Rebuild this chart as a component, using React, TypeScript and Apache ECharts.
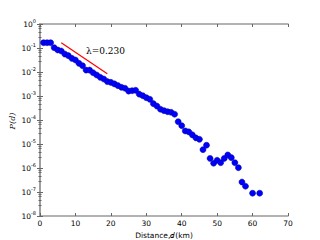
import React, { useEffect, useRef } from "react";
import * as echarts from "echarts";

const distances = [1,2,3,4,5,6,7,8,9,10,11,12,13,14,15,16,17,18,19,20,21,22,23,24,25,26,27,28,29,30,31,32,33,34,35,36,37,38,39,40,41,42,43,44,45,46,47,48,49,50,51,52,53,54,55,56,57,58,60,62];
const probs = [0.166,0.166,0.166,0.103,0.083,0.075,0.056,0.048,0.037,0.0316,0.023,0.0183,0.012,0.012,0.0093,0.0075,0.006,0.0051,0.004,0.0037,0.0032,0.0027,0.0023,0.0021,0.0016,0.00166,0.00173,0.0012,0.00103,0.00085,0.00073,0.00048,0.00038,0.00028,0.000245,0.000222,0.00021,0.000174,8.5e-5,5.8e-5,3.5e-5,3.2e-5,2.4e-5,1.8e-5,1.57e-5,5.8e-6,8.9e-6,2.5e-6,1.58e-6,2.1e-6,1.66e-6,2.5e-6,3.5e-6,2.7e-6,1.66e-6,1.03e-6,2.6e-7,1.74e-7,8.9e-8,8.9e-8];
const fitX = [6, 19];
const fitY = [0.166, 0.0084];
const fitLabel = "λ=0.230";
const yTitle = "P(d)";
const xTicks = [0, 10, 20, 30, 40, 50, 60, 70];

export default function App() {
  const ref = useRef<HTMLDivElement>(null);
  useEffect(() => {
    if (!ref.current) return;
    const chart = echarts.init(ref.current, undefined, { renderer: "svg" });
    const axisColor = "#999";
    const supFmt = (v: number) => {
      const e = Math.round(Math.log10(v));
      return `{b|10}{s|${e}}`;
    };
    const rich = {
      b: { fontSize: 7.5, fontFamily: "DejaVu Sans", color: "#000" },
      s: { fontSize: 5, fontFamily: "DejaVu Sans", color: "#000", padding: [0, 0, 6, 0] },
    };
    chart.setOption({
      animation: false,
      grid: { left: 40, right: 32, top: 24, bottom: 24, containLabel: false, outerBoundsMode: "none" },
      xAxis: [
        {
          type: "value", min: 0, max: 70, interval: 10,
          axisLine: { lineStyle: { color: axisColor, width: 1.5 } },
          axisTick: { inside: true, length: 3, lineStyle: { color: "#666" } },
          axisLabel: { fontSize: 7.5, fontFamily: "DejaVu Sans", color: "#000", margin: 3, formatter: (v: number) => (xTicks.includes(v) ? String(v) : "") },
          splitLine: { show: false },
          name: "Distance,𝑑(km)", nameLocation: "middle", nameGap: 13,
          nameTextStyle: { fontSize: 7.5, fontFamily: "DejaVu Sans", color: "#000" },
        },
        {
          type: "value", min: 0, max: 70, interval: 10, position: "top",
          axisLine: { show: true, lineStyle: { color: axisColor, width: 1.5 } },
          axisTick: { show: true, inside: true, length: 3, lineStyle: { color: "#666" } },
          axisLabel: { show: false }, splitLine: { show: false },
        },
      ],
      yAxis: [
        {
          type: "log", logBase: 10, min: 1e-8, max: 1, interval: 1, splitNumber: 8,
          axisLine: { show: true, lineStyle: { color: axisColor, width: 1.5 } },
          axisTick: { show: true, inside: true, length: 3, lineStyle: { color: "#666" } },
          minorTick: { show: true, splitNumber: 5, length: 1.5, lineStyle: { color: "#666" } },
          axisLabel: { formatter: supFmt, rich, margin: 4 },
          splitLine: { show: false },
        },
        {
          type: "log", logBase: 10, min: 1e-8, max: 1, interval: 1, splitNumber: 8, position: "right",
          axisLine: { show: true, lineStyle: { color: axisColor, width: 1.5 } },
          axisTick: { show: true, inside: true, length: 3, lineStyle: { color: "#666" } },
          minorTick: { show: true, splitNumber: 5, length: 1.5, lineStyle: { color: "#666" } },
          axisLabel: { show: false }, splitLine: { show: false },
        },
      ],
      series: [
        {
          type: "line",
          data: fitX.map((x, i) => [x, fitY[i]]),
          symbol: "none",
          lineStyle: { color: "#ff0000", width: 1.2 },
          z: 3,
        },
        {
          type: "scatter",
          data: distances.map((d, i) => [d, probs[i]]),
          symbol: "circle",
          symbolSize: 6,
          itemStyle: { color: "#0000ff", borderColor: "#00008b", borderWidth: 0.5, opacity: 1 },
          z: 4,
        },
      ],
      graphic: [
        {
          type: "text", left: 86, top: 46,
          style: { text: fitLabel, fontSize: 9, fontFamily: "DejaVu Serif", fill: "#000" },
        },
        {
          type: "text", x: 12, y: 121, rotation: Math.PI / 2,
          style: { text: yTitle, fontSize: 8, fontFamily: "DejaVu Serif", fontStyle: "italic", fill: "#000", align: "center", verticalAlign: "middle" },
        },
      ],
    });
    return () => chart.dispose();
  }, []);
  return <div ref={ref} style={{ width: 320, height: 240, position: "absolute", left: 0, top: 0 }} />;
}
